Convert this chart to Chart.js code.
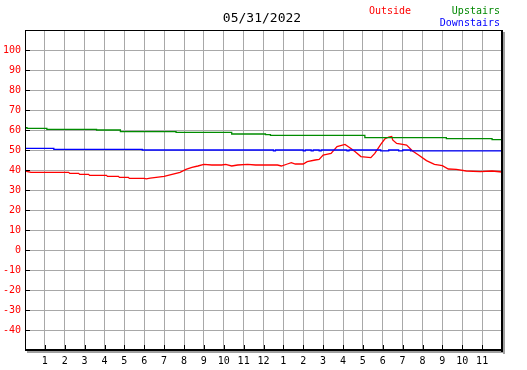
<!DOCTYPE html>
<html>
<head>
<meta charset="utf-8">
<script src="https://cdn.jsdelivr.net/npm/chart.js@4/dist/chart.umd.min.js"></script>
<style>
html,body{margin:0;padding:0;background:#fff;}
#c{display:block;}
</style>
</head>
<body>
<canvas id="c" width="527" height="370"></canvas>
<script>
const titleText = "05/31/2022";
const seriesNames = ["Outside", "Upstairs", "Downstairs"];
const hourLabels = ["1","2","3","4","5","6","7","8","9","10","11","12","1","2","3","4","5","6","7","8","9","10","11"];

const outsideHours = [0,0.3,2.2,2.25,2.7,2.75,3.2,3.25,4.1,4.15,4.7,4.75,5.2,5.25,6.0,6.1,6.3,6.6,7.0,7.4,7.8,8.1,8.4,8.7,9.0,9.4,9.9,10.1,10.4,10.7,11.2,11.6,12.1,12.7,12.9,13.2,13.4,13.6,14.0,14.2,14.6,14.8,15.0,15.4,15.7,16.1,16.4,16.6,16.9,17.4,17.6,17.9,18.1,18.3,18.45,18.5,18.7,19.0,19.2,19.5,19.8,20.2,20.6,21.0,21.3,21.7,22.2,22.9,23.5,24];
const outsideTemps = [39.5,38.8,38.8,38.3,38.3,37.8,37.8,37.3,37.3,36.8,36.8,36.3,36.3,35.8,35.8,35.6,35.9,36.3,36.8,37.8,38.8,40.3,41.3,42.0,42.8,42.5,42.5,42.8,42.0,42.5,42.8,42.5,42.5,42.5,42.0,43.0,43.7,43.0,43.0,44.2,45.0,45.3,47.5,48.3,51.7,52.8,50.8,49.2,46.7,46.2,48.3,52.8,55.5,56.5,56.8,55.0,53.3,52.8,52.5,49.5,47.5,44.7,42.8,42.2,40.5,40.3,39.5,39.2,39.5,39.0];

const upstairsHours = [0,0.1,1.1,3.6,4.8,7.6,10.4,12.1,12.35,17.1,21.2,23.5,24];
const upstairsTemps = [61.2,60.8,60.3,60.0,59.2,58.8,58.0,57.7,57.3,56.2,55.7,55.2,55.2];

const downstairsHours = [0,1.45,5.9,12.5,12.6,14.0,14.1,14.4,14.5,14.8,14.9,16.2,16.3,17.9,18.3,18.8,19.0,19.4,24];
const downstairsTemps = [50.8,50.3,50.0,49.6,50.0,49.6,50.0,49.6,50.0,49.6,50.0,49.6,50.0,49.6,50.0,49.6,50.0,49.6,49.6];

const yMin = -50, yMax = 110;
const FONT = "'DejaVu Sans Mono', 'Liberation Mono', monospace";

function pts(xs, ys){ return xs.map((x,i)=>({x:x, y:ys[i]})); }

const framePlugin = {
  id: 'frame',
  afterDraw(chart){
    const ctx = chart.ctx;
    const a = chart.chartArea;
    const xs = chart.scales.x, ys = chart.scales.y;
    ctx.save();
    ctx.fillStyle = '#a0a0a0';
    ctx.fillRect(a.right+1, a.top+2, 2, a.bottom - a.top + 2);
    ctx.fillRect(a.left+2, a.bottom+1, a.right - a.left + 1, 2);
    ctx.strokeStyle = '#000';
    ctx.lineWidth = 1;
    ctx.beginPath();
    ctx.moveTo(a.left+0.5, a.top+0.5); ctx.lineTo(a.right+0.5, a.top+0.5);
    ctx.moveTo(a.left+0.5, a.top); ctx.lineTo(a.left+0.5, a.bottom+1);
    ctx.stroke();
    ctx.fillStyle = '#000';
    ctx.fillRect(a.right-1, a.top, 2, a.bottom - a.top + 2);
    ctx.fillRect(a.left, a.bottom-1, a.right - a.left + 1, 2);
    ctx.beginPath();
    for (let v = -40; v <= 100; v += 10){
      const py = Math.round(ys.getPixelForValue(v)) + 0.5;
      ctx.moveTo(a.left, py); ctx.lineTo(a.left+5, py);
    }
    for (let h = 1; h <= 23; h++){
      const px = Math.round(xs.getPixelForValue(h)) + 0.5;
      ctx.moveTo(px, a.bottom); ctx.lineTo(px, a.bottom-5);
    }
    ctx.stroke();
    ctx.textBaseline = 'middle';
    ctx.font = '13px ' + FONT;
    ctx.fillStyle = '#000';
    ctx.textAlign = 'center';
    ctx.fillText(titleText, 262, 19);
    ctx.font = '10px ' + FONT;
    ctx.textAlign = 'left';
    ctx.fillStyle = '#ff0000';
    ctx.fillText(seriesNames[0], 369, 11);
    ctx.textAlign = 'right';
    ctx.fillStyle = '#008800';
    ctx.fillText(seriesNames[1], 500, 11);
    ctx.fillStyle = '#0000ff';
    ctx.fillText(seriesNames[2], 500, 23);
    ctx.restore();
  }
};

new Chart(document.getElementById('c'), {
  type: 'line',
  data: {
    datasets: [
      { label: seriesNames[1], data: pts(upstairsHours, upstairsTemps), borderColor: '#008c00', borderWidth: 1.3, pointRadius: 0, stepped: true, fill: false },
      { label: seriesNames[2], data: pts(downstairsHours, downstairsTemps), borderColor: '#0000ff', borderWidth: 1.3, pointRadius: 0, stepped: true, fill: false },
      { label: seriesNames[0], data: pts(outsideHours, outsideTemps), borderColor: '#ff0000', borderWidth: 1.3, pointRadius: 0, tension: 0, fill: false }
    ]
  },
  options: {
    responsive: false,
    animation: false,
    devicePixelRatio: 1,
    layout: { padding: { top: 30, right: 25, bottom: 0, left: 0 } },
    plugins: { legend: { display: false }, title: { display: false }, tooltip: { enabled: false } },
    scales: {
      x: {
        type: 'linear', min: 0, max: 24,
        afterFit(s){ s.height = 20; },
        border: { display: false },
        grid: { color: '#a8a8a8', lineWidth: 1, drawTicks: false },
        ticks: {
          stepSize: 1, autoSkip: false, maxRotation: 0, padding: 5,
          color: '#000', font: { family: FONT, size: 10 },
          callback(v){ return (v >= 1 && v <= 23) ? hourLabels[v-1] : ''; }
        }
      },
      y: {
        type: 'linear', min: yMin, max: yMax,
        afterFit(s){ s.width = 25; },
        border: { display: false },
        grid: { color: '#a8a8a8', lineWidth: 1, drawTicks: false },
        ticks: {
          stepSize: 10, padding: 4,
          color: '#ff0000', font: { family: FONT, size: 10 },
          callback(v){ return (v > yMin && v < yMax) ? String(v) : ''; }
        }
      }
    }
  },
  plugins: [framePlugin]
});
</script>
</body>
</html>
